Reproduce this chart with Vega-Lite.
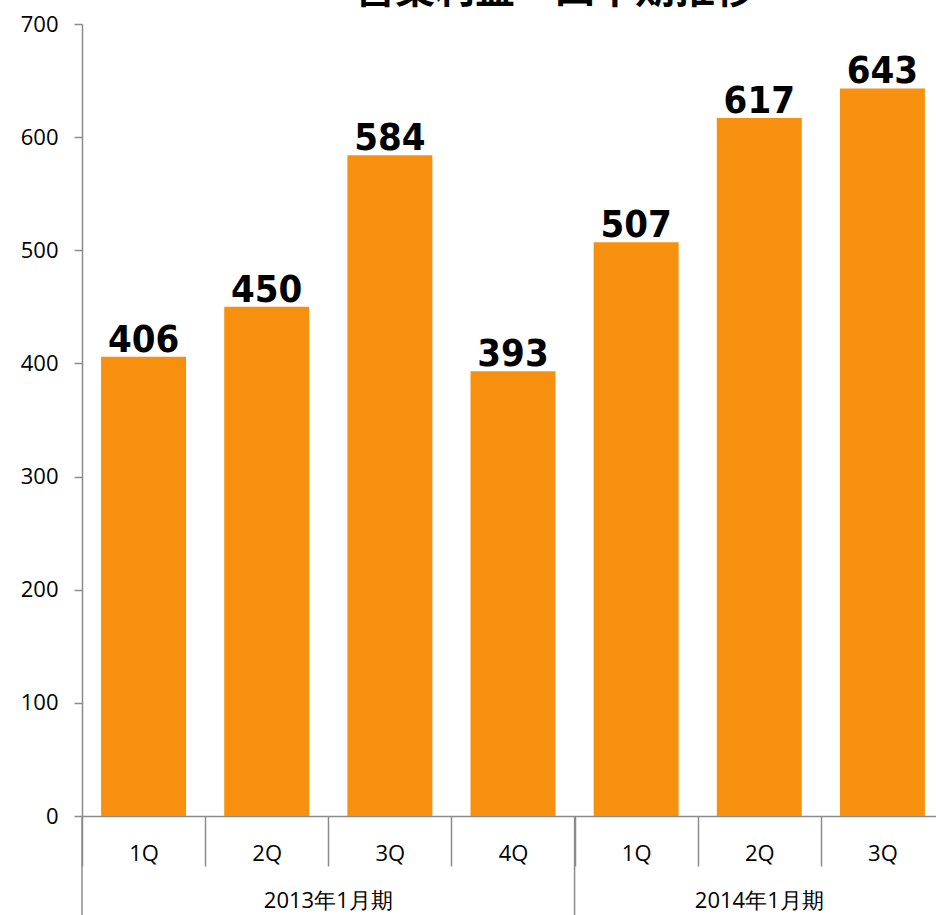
{
  "$schema": "https://vega.github.io/schema/vega-lite/v6.json",
  "autosize": "none",
  "width": 862,
  "height": 792,
  "padding": {"left": 82, "top": 24, "right": 0, "bottom": 99},
  "background": "white",
  "title": {
    "text": "営業利益　四半期推移",
    "font": "Noto Sans CJK JP",
    "fontSize": 40,
    "fontWeight": "bold",
    "color": "black",
    "anchor": "middle",
    "baseline": "alphabetic",
    "offset": -30,
    "dx": 42
  },
  "config": {
    "view": {"stroke": null},
    "axis": {"domainColor": "#8C8C8C", "tickColor": "#8C8C8C", "grid": false, "labelColor": "black", "labelFont": "Open Sans", "labelFontSize": 22, "title": null}
  },
  "datasets": {
    "sales": [
      {"key": "2013-1Q", "period": "2013年1月期", "q": "1Q", "value": 406},
      {"key": "2013-2Q", "period": "2013年1月期", "q": "2Q", "value": 450},
      {"key": "2013-3Q", "period": "2013年1月期", "q": "3Q", "value": 584},
      {"key": "2013-4Q", "period": "2013年1月期", "q": "4Q", "value": 393},
      {"key": "2014-1Q", "period": "2014年1月期", "q": "1Q", "value": 507},
      {"key": "2014-2Q", "period": "2014年1月期", "q": "2Q", "value": 617},
      {"key": "2014-3Q", "period": "2014年1月期", "q": "3Q", "value": 643}
    ]
  },
  "data": {"name": "sales"},
  "encoding": {
    "x": {
      "field": "key",
      "type": "nominal",
      "sort": null,
      "scale": {"paddingInner": 0, "paddingOuter": 0},
      "axis": {
        "labelExpr": "split(datum.value, '-')[1]",
        "labelAngle": 0,
        "tickBand": "extent",
        "tickSize": 50,
        "labelBaseline": "alphabetic",
        "labelPadding": -6,
        "domainWidth": 1.5,
        "tickWidth": 1.5
      }
    }
  },
  "layer": [
    {
      "mark": {"type": "bar", "color": "#F7900E", "width": {"band": 0.69}},
      "encoding": {
        "y": {
          "field": "value",
          "type": "quantitative",
          "scale": {"domain": [0, 700], "nice": false},
          "axis": {"values": [0, 100, 200, 300, 400, 500, 600, 700], "tickSize": 8, "labelPadding": 16, "domainWidth": 1.5, "tickWidth": 1.5}
        }
      }
    },
    {
      "mark": {"type": "text", "font": "'DejaVu Sans Condensed', 'Liberation Sans', sans-serif", "fontWeight": "bold", "fontSize": 38, "baseline": "alphabetic", "dy": -5, "color": "black"},
      "encoding": {
        "y": {"field": "value", "type": "quantitative"},
        "text": {"field": "value", "type": "quantitative"}
      }
    },
    {
      "transform": [{"filter": "datum.q === '1Q'"}],
      "mark": {"type": "rule", "color": "#8C8C8C", "strokeWidth": 1.5},
      "encoding": {
        "x": {"field": "key", "type": "nominal", "sort": null, "bandPosition": 0},
        "y": {"datum": 0},
        "y2": {"datum": -90}
      }
    },
    {
      "transform": [{"filter": "datum.key === '2013-3Q'"}],
      "mark": {"type": "text", "font": "Open Sans", "fontSize": 22, "baseline": "alphabetic", "dy": 92, "color": "black"},
      "encoding": {
        "x": {"field": "key", "type": "nominal", "sort": null, "bandPosition": 0},
        "y": {"datum": 0},
        "text": {"field": "period"}
      }
    },
    {
      "transform": [{"filter": "datum.key === '2014-2Q'"}],
      "mark": {"type": "text", "font": "Open Sans", "fontSize": 22, "baseline": "alphabetic", "dy": 92, "color": "black"},
      "encoding": {
        "x": {"field": "key", "type": "nominal", "sort": null, "bandPosition": 0.5},
        "y": {"datum": 0},
        "text": {"field": "period"}
      }
    }
  ]
}
